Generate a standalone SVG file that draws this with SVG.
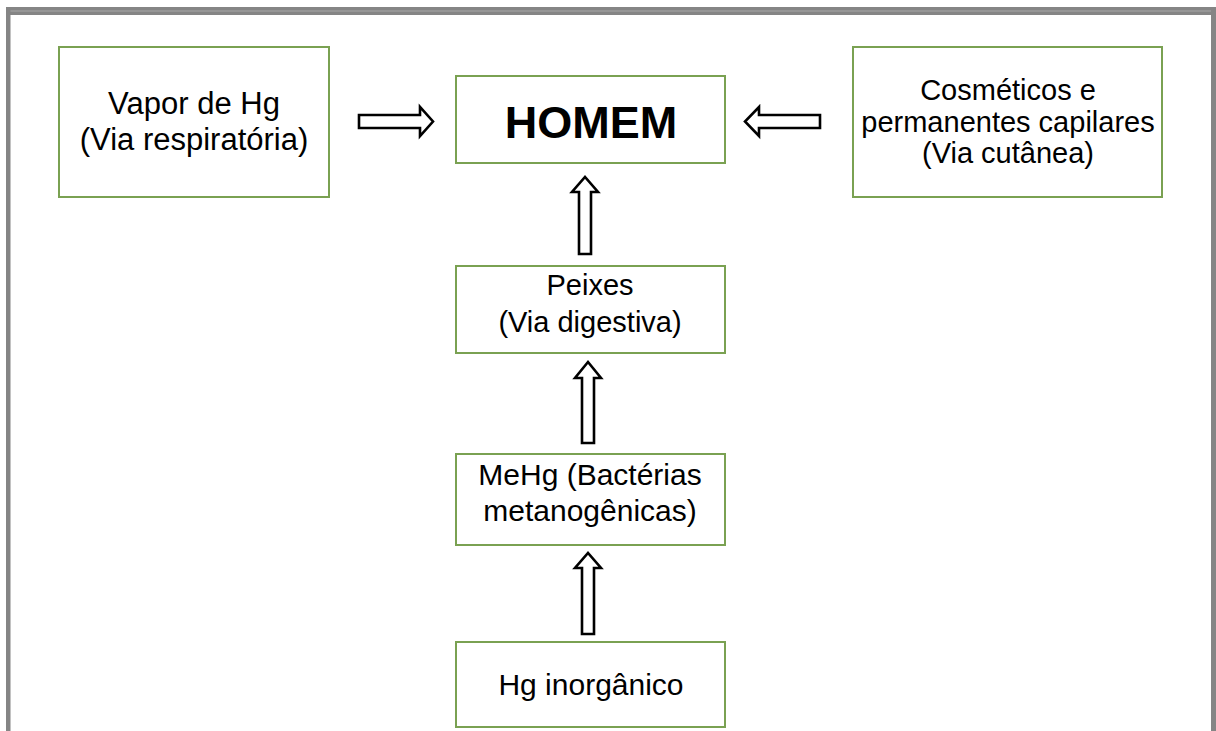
<svg xmlns="http://www.w3.org/2000/svg" width="1216" height="731" viewBox="0 0 1216 731">
<style>
.box{fill:#ffffff;stroke:#7aa152;stroke-width:2}
.t{font-family:"Liberation Sans",Arial,sans-serif;font-size:30px;fill:#000;text-anchor:middle}
.arr{fill:#ffffff;stroke:#000;stroke-width:2.6;stroke-linejoin:miter}
</style>
<rect width="1216" height="731" fill="#ffffff"/>
<g id="frame">
<rect x="6" y="7" width="1210" height="8" fill="#858585"/>
<rect x="6" y="10.5" width="1210" height="1" fill="#a8a8a8"/>
<rect x="6" y="7" width="4.5" height="724" fill="#858585"/>
<rect x="1211" y="7" width="5" height="724" fill="#858585"/>
</g>
<g id="node-vapor">
<rect class="box" x="59" y="47" width="270" height="150"/>
<text class="t" x="194" y="114" style="font-size:31px">Vapor de Hg</text>
<text class="t" x="194" y="150" style="font-size:31px">(Via respiratória)</text>
</g>
<g id="node-homem">
<rect class="box" x="456" y="76" width="269" height="87"/>
<text class="t" x="591" y="138" style="font-size:45px;font-weight:bold">HOMEM</text>
</g>
<g id="node-cosmeticos">
<rect class="box" x="853" y="47" width="309" height="150"/>
<text class="t" x="1008" y="100" style="font-size:29px">Cosméticos e</text>
<text class="t" x="1008" y="132" style="font-size:29px">permanentes capilares</text>
<text class="t" x="1008" y="163" style="font-size:29px">(Via cutânea)</text>
</g>
<g id="node-peixes">
<rect class="box" x="456" y="266" width="269" height="87"/>
<text class="t" x="590" y="295" style="font-size:29px">Peixes</text>
<text class="t" x="590" y="332" style="font-size:29px">(Via digestiva)</text>
</g>
<g id="node-mehg">
<rect class="box" x="456" y="454" width="269" height="91"/>
<text class="t" x="590" y="485">MeHg (Bactérias</text>
<text class="t" x="590" y="521">metanogênicas)</text>
</g>
<g id="node-hg">
<rect class="box" x="456" y="642" width="269" height="85"/>
<text class="t" x="591" y="695">Hg inorgânico</text>
</g>
<g id="connectors">
<polygon class="arr" points="359,115 420,115 420,107 433,121.5 420,136 420,128 359,128"/>
<polygon class="arr" points="820,115 759,115 759,107 745,121.5 759,136 759,128 820,128"/>
<polygon class="arr" points="579,254 579,192 572,192 585,177 598,192 591,192 591,254"/>
<polygon class="arr" points="582,443 582,378 575,378 588,362 601,378 594,378 594,443"/>
<polygon class="arr" points="582,634 582,568 575,568 588,553 601,568 594,568 594,634"/>
</g>
</svg>
